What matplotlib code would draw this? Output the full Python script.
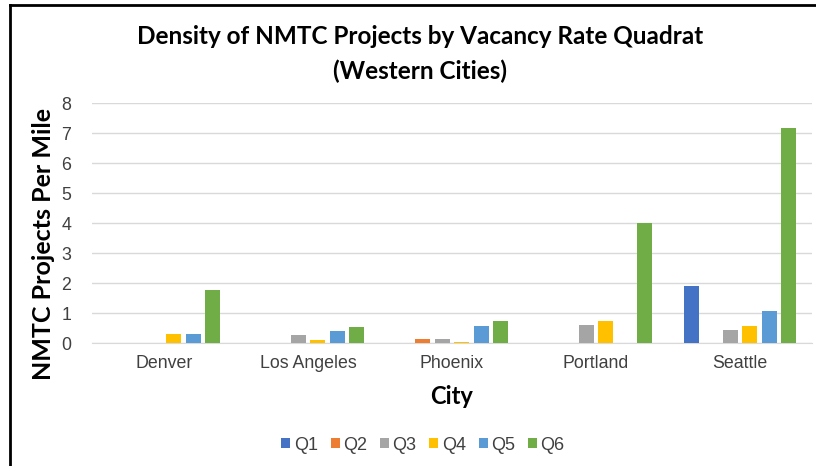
import matplotlib.pyplot as plt
import numpy as np
from matplotlib.lines import Line2D

# Data
cities = ['Denver', 'Los Angeles', 'Phoenix', 'Portland', 'Seattle']
quadrats = ['Q1', 'Q2', 'Q3', 'Q4', 'Q5', 'Q6']
q1 = [0, 0, 0, 0, 1.90]
q2 = [0, 0, 0.13, 0, 0]
q3 = [0, 0.26, 0.13, 0.61, 0.44]
q4 = [0.30, 0.09, 0.05, 0.74, 0.56]
q5 = [0.30, 0.39, 0.56, 0, 1.08]
q6 = [1.76, 0.53, 0.74, 4.00, 7.17]
series = [q1, q2, q3, q4, q5, q6]
colors = ['#4472C4', '#ED7D31', '#A5A5A5', '#FFC000', '#5B9BD5', '#70AD47']

fig = plt.figure(figsize=(8.16, 4.66), dpi=100)
fig.patch.set_facecolor('white')
ax = fig.add_axes([92 / 816, 1 - 343 / 466, 720 / 816, 240 / 466])

x = np.arange(len(cities))
pitch = 0.135
width = 0.105
for i, (vals, col, name) in enumerate(zip(series, colors, quadrats)):
    ax.bar(x + (i - 2.5) * pitch, vals, width=width, color=col, label=name, zorder=3)

ax.set_xlim(-0.5, 4.5)
ax.set_ylim(0, 8)
ax.set_yticks(range(0, 9))
ax.set_xticks(x)
ax.set_xticklabels(cities, fontsize=12.8, color='#404040', family='Liberation Sans')
ax.set_yticklabels([str(v) for v in range(0, 9)], fontsize=12.8, color='#404040',
                   family='Liberation Sans')
ax.tick_params(length=0)
ax.tick_params(axis='x', pad=9)
ax.tick_params(axis='y', pad=15)

# Grid and spines
ax.grid(axis='y', color='#D9D9D9', linewidth=1, zorder=0)
for s in ['top', 'right', 'left']:
    ax.spines[s].set_visible(False)
ax.spines['bottom'].set_color('#D9D9D9')

# Labels
fig.text(420 / 816, 1 - 36 / 466, 'Density of NMTC Projects by Vacancy Rate Quadrat',
         ha='center', va='center', fontsize=17.5, fontweight='bold', family='Lato')
fig.text(420 / 816, 1 - 71 / 466, '(Western Cities)',
         ha='center', va='center', fontsize=17.5, fontweight='bold', family='Lato')
fig.text(44 / 816, 1 - 244 / 466, 'NMTC Projects Per Mile', rotation=90,
         ha='center', va='center', fontsize=18, fontweight='bold', family='Lato')
fig.text(452 / 816, 1 - 397 / 466, 'City', ha='center', va='center',
         fontsize=17, fontweight='bold', family='Lato')

# Legend
leg = fig.legend(loc='center', bbox_to_anchor=(423 / 816, 1 - 445 / 466), ncol=6,
                 frameon=False, handlelength=0.5, handleheight=0.5, handletextpad=0.2,
                 columnspacing=0.7, prop={'family': 'Liberation Sans', 'size': 13})
for t in leg.get_texts():
    t.set_color('#404040')

# Outer frame (left and top edges)
fig.add_artist(Line2D([10 / 816, 10 / 816], [0, 1 - 5 / 466], color='black', linewidth=2))
fig.add_artist(Line2D([10 / 816, 1], [1 - 5 / 466, 1 - 5 / 466], color='black', linewidth=2))

fig.savefig('out.png', dpi=100)
